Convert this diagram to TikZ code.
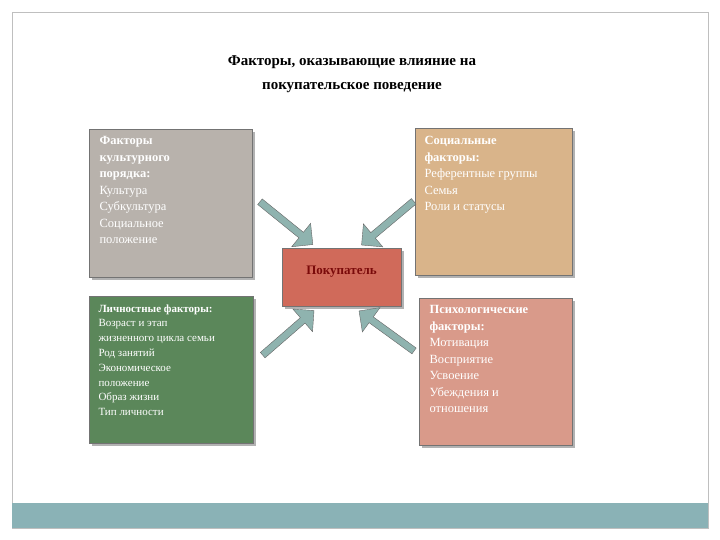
\documentclass[tikz,border=0pt]{standalone}
\usepackage{fontspec}
\setmainfont{Liberation Serif}
\usetikzlibrary{shapes.arrows}
\definecolor{cgrey}{HTML}{B8B2AC}
\definecolor{ctan}{HTML}{D9B48A}
\definecolor{cgreen}{HTML}{5B875A}
\definecolor{cpink}{HTML}{D99A8A}
\definecolor{cred}{HTML}{D06A5A}
\definecolor{cdred}{HTML}{7A0A0A}
\definecolor{carrow}{HTML}{8FB3AF}
\definecolor{cbar}{HTML}{8AB2B6}
\begin{document}
\begin{tikzpicture}[x=1pt,y=-1pt,
  fbox/.style={draw=black!55,line width=1pt,anchor=north west,inner sep=0pt,text=white,align=left},
  barrow/.style={single arrow,draw=black!60,fill=carrow,minimum width=30pt,single arrow head extend=7pt,minimum height=68pt,inner sep=2pt,single arrow tip angle=90}]
\useasboundingbox (0,0) rectangle (720,540);
\fill[white] (0,0) rectangle (720,540);
\draw[black!25] (12,12) rectangle (708,528);
\fill[cbar] (12,503) rectangle (708,528);
\node[font=\bfseries\fontsize{15}{24}\selectfont,align=center] (title) at (352,74) {Факторы, оказывающие влияние на\\покупательское поведение};
\fill[black!30] (92,132) rectangle (255,280);
\node[fbox,fill=cgrey,minimum width=163pt,minimum height=148pt] (cult) at (89,129) {};
\node[anchor=north west,text=white,align=left,font=\fontsize{12.5}{16.5}\selectfont] (cultt) at (96,133) {\textbf{Факторы}\\\textbf{культурного}\\\textbf{порядка:}\\Культура\\Субкультура\\Социальное\\положение};
\fill[black!30] (418,131) rectangle (575,278);
\node[fbox,fill=ctan,minimum width=157pt,minimum height=147pt] (soc) at (415,128) {};
\node[anchor=north west,text=white,align=left,font=\fontsize{12.5}{16.5}\selectfont] (soct) at (421,133) {\textbf{Социальные}\\\textbf{факторы:}\\Референтные группы\\Семья\\Роли и статусы};
\fill[black!30] (92,299) rectangle (256,446);
\node[fbox,fill=cgreen,minimum width=164pt,minimum height=147pt] (pers) at (89,296) {};
\node[anchor=north west,text=white,align=left,font=\fontsize{11}{14.8}\selectfont] (perst) at (95,301) {\textbf{Личностные факторы:}\\Возраст и этап\\жизненного цикла семьи\\Род занятий\\Экономическое\\положение\\Образ жизни\\Тип личности};
\fill[black!30] (422,301) rectangle (575,448);
\node[fbox,fill=cpink,minimum width=153pt,minimum height=147pt] (psy) at (419,298) {};
\node[anchor=north west,text=white,align=left,font=\fontsize{12.5}{16.5}\selectfont] (psyt) at (426,302) {\textbf{Психологические}\\\textbf{факторы:}\\Мотивация\\Восприятие\\Усвоение\\Убеждения и\\отношения};
\fill[black!30] (285,251) rectangle (404,309);
\node[fbox,fill=cred,minimum width=119pt,minimum height=58pt] (buy) at (282,248) {};
\node[text=cdred,font=\bfseries\fontsize{13}{15}\selectfont] (buyt) at (341.5,272) {Покупатель};
\node[barrow,rotate=-39] (a1) at (285,222) {};
\node[barrow,rotate=220] (a2) at (389,222) {};
\node[barrow,rotate=41] (a3) at (287,334) {};
\node[barrow,rotate=144] (a4) at (388,332) {};
\end{tikzpicture}
\end{document}
